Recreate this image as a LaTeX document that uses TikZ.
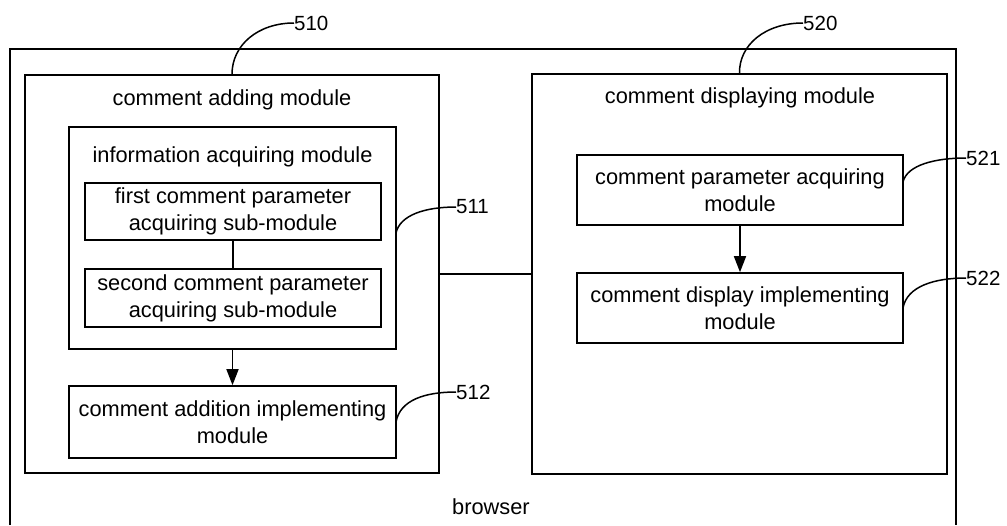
\documentclass[tikz,border=0pt]{standalone}
\usepackage{fontspec}
\setmainfont{Liberation Sans}
\usetikzlibrary{arrows.meta}
\begin{document}
\begin{tikzpicture}[x=1pt,y=-1pt,
  box/.style={draw, line width=1.6pt, inner sep=0pt},
  txt/.style={font=\fontsize{21.8}{27}\selectfont, align=center, inner sep=0pt},
  num/.style={font=\fontsize{20.5}{24}\selectfont, anchor=west, inner sep=0pt},
  lead/.style={line width=1.5pt},
  link/.style={line width=1.6pt},
  arr/.style={line width=1.6pt, -{Triangle[length=16pt,width=12pt]}}]
\useasboundingbox (0,0) rectangle (1007,525);
% browser (open at the bottom)
\draw[line width=1.6pt] (10,525) -- (10,49) -- (956,49) -- (956,525);
\node[txt] (browser) at (491,507) {browser};
% left module
\node[box, minimum width=414pt, minimum height=398pt] (m510) at (232,274) {};
\node[txt] (t510) at (232,100) {comment adding module};
\node[box, minimum width=327pt, minimum height=222pt] (m511) at (232.5,238) {};
\node[txt] (t511) at (232.5,157) {information acquiring module};
\node[box, minimum width=296pt, minimum height=57pt, txt] (s1) at (233,211.5) {first comment parameter\\acquiring sub-module};
\node[box, minimum width=296pt, minimum height=58pt, txt] (s2) at (233,298) {second comment parameter\\acquiring sub-module};
\node[box, minimum width=327pt, minimum height=72pt, txt] (m512) at (232.5,422) {comment addition implementing\\module};
% right module
\node[box, minimum width=415pt, minimum height=400pt] (m520) at (739.5,274) {};
\node[txt] (t520) at (740,98) {comment displaying module};
\node[box, minimum width=326pt, minimum height=70pt, txt] (m521) at (740,190) {comment parameter acquiring\\module};
\node[box, minimum width=326pt, minimum height=70pt, txt] (m522) at (740,308) {comment display implementing\\module};
% connectors
\draw[link] (s1.south) -- (s2.north);
\draw[arr] (m511.south) -- (m512.north);
\draw[arr] (m521.south) -- (m522.north);
\draw[link] (m510.east) -- (m520.west);
% reference labels
\coordinate (c510) at (294,23);
\coordinate (c520) at (803,23);
\coordinate (c511) at (456,207);
\coordinate (c512) at (456,392);
\coordinate (c521) at (966,158);
\coordinate (c522) at (966,278);
\draw[lead] (m510.north) .. controls (232,45) and (258,23) .. (c510);
\node[num] (n510) at (c510) {510};
\draw[lead] (m520.north) .. controls (739,45) and (765,23) .. (c520);
\node[num] (n520) at (c520) {520};
\draw[lead] (396,233) .. controls (400,215) and (425,207) .. (c511);
\node[num] (n511) at (c511) {511};
\draw[lead] (396,422) .. controls (400,400) and (425,392) .. (c512);
\node[num] (n512) at (c512) {512};
\draw[lead] (903,182) .. controls (907,165) and (935,158) .. (c521);
\node[num] (n521) at (c521) {521};
\draw[lead] (903,308) .. controls (907,286) and (935,278) .. (c522);
\node[num] (n522) at (c522) {522};
\end{tikzpicture}
\end{document}
